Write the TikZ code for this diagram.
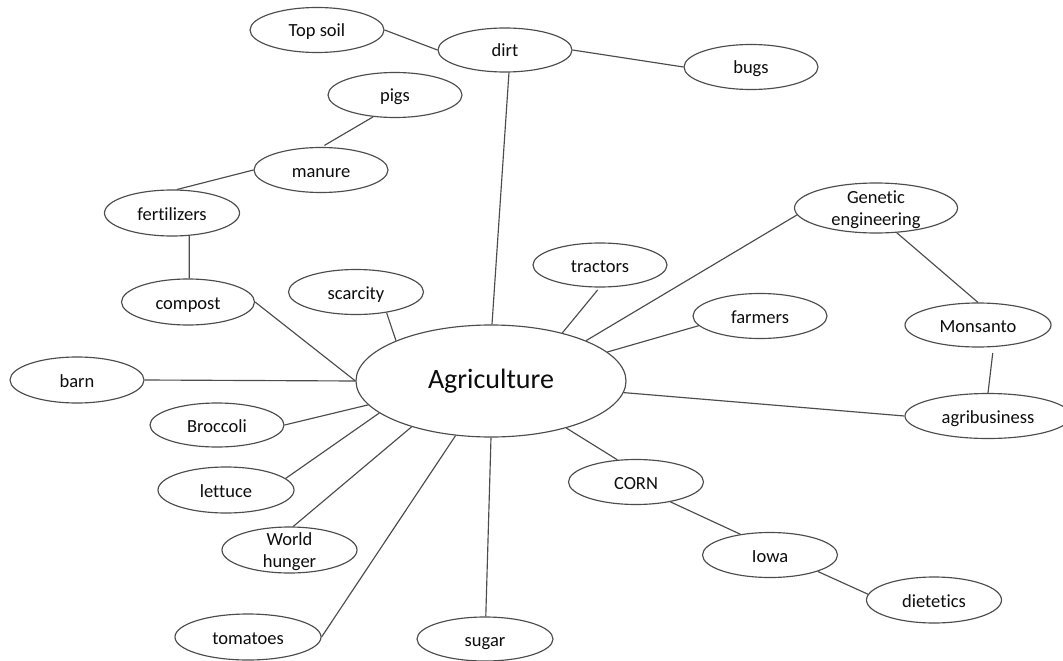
\documentclass[tikz,border=0pt]{standalone}
\usepackage{fontspec}
\setmainfont{Carlito}[Ligatures=CommonOff]
\usetikzlibrary{shapes.geometric}
\definecolor{linegray}{gray}{0.30}
\definecolor{textgray}{gray}{0.05}
\tikzset{
  bub/.style={draw=linegray, line width=1.15pt, ellipse, inner sep=0pt,
    minimum width=134pt, minimum height=45pt, text height=17pt, text depth=3pt,
    font=\fontsize{18.5}{22}\selectfont, text=textgray},
  bigbub/.style={bub, minimum width=270pt, minimum height=112pt,
    text height=20pt, text depth=6pt, font=\fontsize{28}{32}\selectfont},
  conn/.style={draw=linegray, line width=1.15pt}
}
\newcommand{\twoline}[2]{\raisebox{12pt}[0pt][0pt]{\begin{tabular}[t]{@{}c@{}}#1\\#2\end{tabular}}}
\begin{document}
\begin{tikzpicture}[x=1pt,y=-1pt]
\useasboundingbox (0,0) rectangle (1063,661);
\fill[white] (0,0) rectangle (1063,661);
% nodes
\node[bigbub] (agri) at (491,381) {Agriculture};
\node[bub] (topsoil) at (317,30) {Top soil};
\node[bub, minimum height=44pt] (dirt) at (505,50) {dirt};
\node[bub] (bugs) at (751,67) {bugs};
\node[bub] (pigs) at (395,95) {pigs};
\node[bub] (manure) at (321,170) {manure};
\node[bub, minimum width=135pt, minimum height=46pt] (fert) at (172,213) {fertilizers};
\node[bub, minimum width=133pt, minimum height=46pt] (compost) at (188,302) {compost};
\node[bub, minimum width=135pt] (scarcity) at (356,292) {scarcity};
\node[bub, minimum width=163pt, minimum height=50pt] (genetic) at (876,208) {\twoline{Genetic}{engineering}};
\node[bub, minimum height=44pt] (tractors) at (600,265) {tractors};
\node[bub] (farmers) at (760,316) {farmers};
\node[bub, minimum width=146pt, minimum height=44pt] (monsanto) at (978,325) {Monsanto};
\node[bub, minimum width=166pt] (agribus) at (988,416) {agribusiness};
\node[bub, minimum height=46pt] (barn) at (77,380) {barn};
\node[bub, minimum height=44pt] (broccoli) at (217,425) {Broccoli};
\node[bub, minimum width=136pt, minimum height=46pt] (lettuce) at (226,490) {lettuce};
\node[bub, minimum width=135pt, minimum height=46pt] (world) at (289.5,550) {\twoline{World}{hunger}};
\node[bub, minimum width=146pt, minimum height=46pt] (tomatoes) at (248,637) {tomatoes};
\node[bub, minimum width=136pt, minimum height=44pt] (sugar) at (485,639) {sugar};
\node[bub, minimum width=135pt] (corn) at (636,482) {CORN};
\node[bub, minimum width=135pt] (iowa) at (770,555) {Iowa};
\node[bub, minimum width=135pt, minimum height=46pt] (dietetics) at (934,600) {dietetics};
% connectors
\draw[conn] (topsoil.east) -- (dirt.west);
\draw[conn] (dirt.east) -- (bugs.west);
\draw[conn] (dirt.-80) -- (agri.89);
\draw[conn, shorten >=3pt] (pigs.-135) -- (manure.88);
\draw[conn] (manure.west) -- (fert.78);
\draw[conn] (fert.-53) -- (compost.87);
\draw[conn] (compost.east) -- (agri.west);
\draw[conn] (scarcity.-34) -- (agri.157);
\draw[conn] (barn.east) -- (agri.west);
\draw[conn] (broccoli.east) -- (agri.-169);
\draw[conn] (lettuce.11) -- (agri.-164);
\draw[conn] (world.81) -- (agri.-150);
\draw[conn] (tomatoes.east) -- (agri.-123);
\draw[conn] (sugar.88) -- (agri.-90);
\draw[conn] (agri.-32) -- (corn.130);
\draw[conn] (corn.-30) -- (iowa.145);
\draw[conn] (iowa.-19) -- (dietetics.175);
\draw[conn] (agri.-5.5) -- (agribus.west);
\draw[conn, shorten <=6pt] (monsanto.-55) -- (agribus.90);
\draw[conn] (genetic.-50) -- (monsanto.north);
\draw[conn] (genetic.-175) -- (agri.23);
\draw[conn, shorten <=3pt] (tractors.-91) -- (agri.34);
\draw[conn] (farmers.189) -- (agri.14);
\end{tikzpicture}
\end{document}
